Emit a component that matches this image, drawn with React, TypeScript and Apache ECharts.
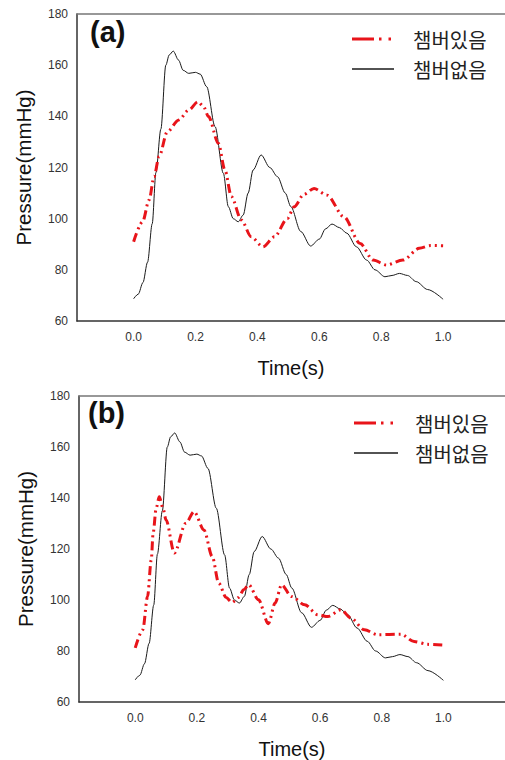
import React, { useEffect, useRef } from "react";
import * as echarts from "echarts";

const seriesNames = ["챔버있음", "챔버없음"];
const panelLabels = ["(a)", "(b)"];
const xTickValues = [0, 0.2, 0.4, 0.6, 0.8, 1.0];

const blackTime = [0, 0.015, 0.03, 0.045, 0.06, 0.072, 0.088, 0.104, 0.115, 0.128, 0.145, 0.16, 0.178, 0.2, 0.215, 0.236, 0.263, 0.29, 0.306, 0.322, 0.338, 0.354, 0.37, 0.386, 0.412, 0.44, 0.465, 0.49, 0.508, 0.54, 0.572, 0.6, 0.62, 0.641, 0.665, 0.689, 0.72, 0.753, 0.78, 0.812, 0.835, 0.859, 0.885, 0.913, 0.95, 1.0];
const blackPressure = [68.7, 70.5, 75, 83, 98, 118, 135, 160, 164, 165.5, 162, 158, 156.8, 157.2, 156.5, 151.6, 136, 117.7, 104.7, 100, 98.8, 101.4, 110, 119, 124.9, 120, 116.4, 110, 104.7, 95, 89.3, 92, 96, 97.9, 96.5, 94.3, 89, 83.8, 80, 77.3, 77.8, 78.6, 77.8, 75.4, 72.3, 68.5];

const redTimeA = [0, 0.029, 0.05, 0.066, 0.082, 0.109, 0.146, 0.178, 0.208, 0.225, 0.242, 0.274, 0.295, 0.316, 0.348, 0.38, 0.418, 0.455, 0.497, 0.519, 0.55, 0.583, 0.625, 0.679, 0.732, 0.774, 0.817, 0.87, 0.923, 0.96, 1.0];
const redPressureA = [91, 98.8, 107.3, 116.4, 124.2, 134, 138.6, 142.5, 145.7, 144, 139.9, 129.4, 119, 108.6, 99.5, 92.9, 89, 92.9, 100.1, 104.7, 109.5, 111.8, 109.2, 100.8, 90.3, 83.8, 81.9, 83.8, 88.4, 89.5, 89.4];

const redTimeB = [0, 0.0245, 0.04, 0.052, 0.058, 0.068, 0.078, 0.09, 0.1, 0.127, 0.164, 0.191, 0.223, 0.25, 0.271, 0.295, 0.314, 0.335, 0.352, 0.368, 0.4, 0.432, 0.454, 0.475, 0.507, 0.55, 0.593, 0.625, 0.668, 0.7, 0.744, 0.787, 0.862, 0.905, 0.95, 1.0];
const redPressureB = [81.2, 88.3, 101.4, 115.7, 126.2, 136, 140.5, 136, 131.4, 118.4, 130.1, 134.7, 127.5, 117, 106.6, 101, 99, 101, 104, 106, 100.1, 90.7, 98.8, 106, 101.4, 98.1, 94.2, 93.5, 96.2, 92.9, 88.3, 86.4, 86.6, 83.7, 82.6, 82.3];

const pairs = (t: number[], v: number[]) => t.map((x, i) => [x, v[i]]);

const RED = "#e8141a";
const BLACK = "#1a1a1a";
const FONT = "'Liberation Sans', Arial, sans-serif";
const KFONT = "'Noto Sans CJK KR', sans-serif";

export default function App() {
  const ref = useRef<HTMLDivElement>(null);
  useEffect(() => {
    if (!ref.current) return;
    const chart = echarts.init(ref.current, undefined, { renderer: "svg" });

    const grids = [
      { left: 77, top: 14, width: 433, height: 307 },
      { left: 79, top: 396, width: 429, height: 306 },
    ];
    const xMin = [-0.183, -0.1825];

    const xAxes: any[] = [];
    const yAxes: any[] = [];
    grids.forEach((g, i) => {
      xAxes.push({
        type: "value",
        gridIndex: i,
        min: xMin[i],
        max: 1.2,
        position: "bottom",
        name: "Time(s)",
        nameLocation: "middle",
        nameGap: 37,
        nameTextStyle: { fontSize: 20, color: "#111", fontFamily: FONT },
        axisLine: { show: true, onZero: false, lineStyle: { color: "#333", width: 1.5 } },
        axisTick: { show: false },
        splitLine: { show: false },
        axisLabel: {
          customValues: xTickValues,
          formatter: (v: number) => v.toFixed(1),
          fontSize: 12,
          color: "#333",
          fontFamily: FONT,
          margin: 10,
        },
      });
      xAxes.push({
        type: "value",
        gridIndex: i,
        min: xMin[i],
        max: 1.2,
        position: "top",
        axisLine: { show: true, onZero: false, lineStyle: { color: "#777", width: 1.5 } },
        axisTick: { show: false },
        axisLabel: { show: false },
        splitLine: { show: false },
      });
      yAxes.push({
        type: "value",
        gridIndex: i,
        min: 60,
        max: 180,
        interval: 20,
        name: "Pressure(mmHg)",
        nameLocation: "middle",
        nameGap: 43,
        nameTextStyle: { fontSize: 20.5, color: "#111", fontFamily: FONT },
        axisLine: { show: true, onZero: false, lineStyle: { color: "#333", width: 1.5 } },
        axisTick: { show: false },
        splitLine: { show: false },
        axisLabel: { fontSize: 12, color: "#333", fontFamily: FONT, margin: 9 },
      });
    });

    const redLine = (idx: number, data: number[][]) => ({
      type: "line",
      name: seriesNames[0],
      xAxisIndex: idx * 2,
      yAxisIndex: idx,
      data,
      symbol: "none",
      smooth: 0.3,
      smoothMonotone: "x",
      lineStyle: { color: RED, width: 3, type: [9, 4, 2, 4, 2, 4] },
      itemStyle: { color: RED },
      z: 3,
    });
    const blackLine = (idx: number) => ({
      type: "line",
      name: seriesNames[1],
      xAxisIndex: idx * 2,
      yAxisIndex: idx,
      data: pairs(blackTime, blackPressure),
      symbol: "none",
      smooth: 0.3,
      smoothMonotone: "x",
      lineStyle: { color: BLACK, width: 1 },
      itemStyle: { color: BLACK },
      z: 2,
    });

    // legend drawn as graphic: [lineX1, lineX2, textX, row1Y, row2Y]
    const legendPos = [
      [352, 394, 413, 39, 69],
      [354, 398, 415, 423, 453],
    ];
    const legendGraphics: any[] = [];
    legendPos.forEach(([x1, x2, tx, y1, y2]) => {
      legendGraphics.push({
        type: "line",
        shape: { x1, y1, x2, y2: y1 },
        style: { stroke: RED, lineWidth: 3, lineDash: [22, 5, 2.5, 7, 2.5, 100] },
      });
      legendGraphics.push({
        type: "line",
        shape: { x1, y1: y2, x2, y2 },
        style: { stroke: BLACK, lineWidth: 1.3 },
      });
      legendGraphics.push({
        type: "text",
        x: tx,
        y: y1,
        style: { text: seriesNames[0], font: `20px ${KFONT}`, fill: "#222", verticalAlign: "middle" },
      });
      legendGraphics.push({
        type: "text",
        x: tx,
        y: y2,
        style: { text: seriesNames[1], font: `20px ${KFONT}`, fill: "#222", verticalAlign: "middle" },
      });
    });

    chart.setOption({
      animation: false,
      backgroundColor: "#ffffff",
      grid: grids,
      xAxis: xAxes,
      yAxis: yAxes,
      graphic: [
        { type: "text", left: 90, top: 17, style: { text: panelLabels[0], font: `bold 29px ${FONT}`, fill: "#111" } },
        { type: "text", left: 88, top: 398, style: { text: panelLabels[1], font: `bold 29px ${FONT}`, fill: "#111" } },
        ...legendGraphics,
      ],
      series: [
        redLine(0, pairs(redTimeA, redPressureA)),
        blackLine(0),
        redLine(1, pairs(redTimeB, redPressureB)),
        blackLine(1),
      ],
    });
    return () => chart.dispose();
  }, []);
  return (
    <div
      ref={ref}
      style={{ position: "fixed", left: 0, top: 0, width: 505, height: 760, background: "#fff" }}
    />
  );
}
